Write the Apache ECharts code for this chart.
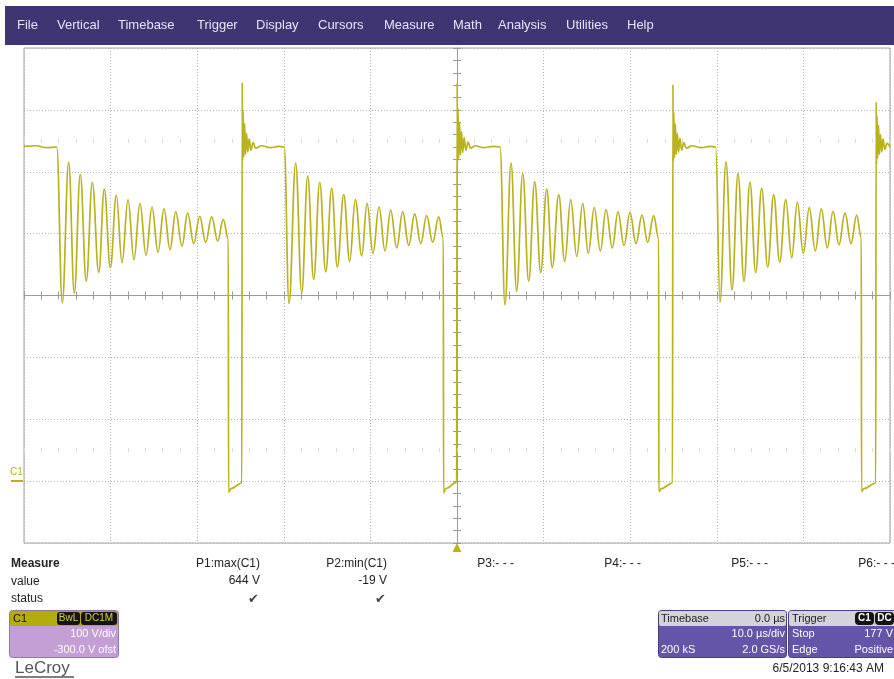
<!DOCTYPE html>
<html>
<head>
<meta charset="utf-8">
<script src="https://cdn.jsdelivr.net/npm/echarts@6/dist/echarts.min.js"></script>
<style>
  html, body { margin: 0; padding: 0; background: #fff; }
  #scope { width: 894px; height: 679px; }
</style>
</head>
<body>
<div id="scope"></div>
<script>
// C1 trace, [time in us, volts], one switching cycle at a time
var cycleA = [
  [-50.0, 541], [-48.6, 542], [-47.4, 539], [-46.22, 540],
  [-45.58, 288], [-44.84, 515], [-44.19, 304], [-43.50, 496], [-42.81, 323], [-42.11, 483],
  [-41.37, 337], [-40.73, 472], [-40.03, 345], [-39.34, 462], [-38.68, 353], [-37.99, 455],
  [-37.30, 358], [-36.61, 449], [-35.91, 365], [-35.22, 443], [-34.53, 370], [-33.83, 440],
  [-33.14, 374], [-32.48, 435], [-31.76, 380], [-31.10, 433], [-30.40, 384], [-29.71, 428],
  [-29.02, 386], [-28.33, 427], [-27.63, 388], [-26.99, 423], [-26.41, 391],
  [-26.38, -18], [-26.10, -12], [-24.85, -3]
]
var cycleB = [
  [-24.82, -3], [-24.80, 644], [-24.76, 518], [-24.70, 598], [-24.62, 524], [-24.52, 578],
  [-24.42, 528], [-24.30, 562], [-24.16, 532], [-24.00, 553], [-23.80, 535], [-23.55, 547],
  [-23.25, 538], [-22.60, 542], [-21.50, 539], [-20.60, 541], [-19.95, 540],
  [-19.40, 287], [-18.63, 514], [-17.93, 304], [-17.24, 493], [-16.55, 326], [-15.85, 483],
  [-15.16, 338], [-14.47, 473], [-13.82, 346], [-13.08, 463], [-12.39, 355], [-11.74, 455],
  [-11.00, 364], [-10.39, 449], [-9.70, 368], [-9.01, 443], [-8.31, 372], [-7.66, 438],
  [-6.96, 377], [-6.27, 435], [-5.58, 381], [-4.88, 432], [-4.19, 384], [-3.50, 429],
  [-2.81, 386], [-2.11, 427], [-1.58, 392],
  [-1.55, -19], [-1.30, -12], [-0.04, -2]
]
var cycleC = [
  [0.00, -2], [0.02, 644], [0.06, 515], [0.12, 602], [0.20, 522], [0.30, 580],
  [0.40, 527], [0.52, 565], [0.66, 531], [0.82, 555], [1.02, 535], [1.27, 548],
  [1.57, 538], [2.10, 542], [3.10, 539], [4.20, 541], [4.97, 540],
  [5.54, 285], [6.24, 514], [6.89, 307], [7.59, 497], [8.28, 323], [8.97, 484],
  [9.67, 337], [10.36, 472], [11.00, 345], [11.74, 463], [12.44, 355], [13.13, 455],
  [13.82, 363], [14.52, 449], [15.16, 368], [15.85, 442], [16.55, 372], [17.21, 439],
  [17.93, 377], [18.59, 435], [19.28, 381], [19.98, 434], [20.67, 384], [21.36, 430],
  [22.02, 386], [22.71, 429], [23.29, 392],
  [23.31, -17], [23.60, -12], [24.88, -3]
]
var cycleD = [
  [24.92, -3], [24.94, 641], [24.98, 517], [25.04, 596], [25.12, 523], [25.22, 577],
  [25.32, 528], [25.44, 562], [25.58, 532], [25.74, 554], [25.94, 535], [26.19, 547],
  [26.49, 538], [27.10, 542], [28.20, 539], [29.20, 541], [29.87, 540],
  [30.37, 289], [31.06, 516], [31.76, 309], [32.45, 497], [33.14, 323], [33.83, 483],
  [34.49, 337], [35.18, 473], [35.88, 346], [36.57, 463], [37.26, 354], [37.96, 455],
  [38.65, 361], [39.30, 451], [39.99, 368], [40.68, 442], [41.37, 372], [42.07, 440],
  [42.76, 377], [43.42, 436], [44.11, 382], [44.80, 433], [45.50, 384], [46.15, 430],
  [46.69, 393],
  [46.71, -17], [47.00, -12], [48.35, -3]
]
var cycleE = [
  [48.38, -3], [48.40, 613], [48.44, 512], [48.50, 590], [48.58, 522], [48.68, 575],
  [48.78, 528], [48.90, 560], [49.04, 532], [49.20, 553], [49.40, 536], [49.65, 546],
  [50.0, 540]
]

var menuItems = ['File', 'Vertical', 'Timebase', 'Trigger', 'Display', 'Cursors', 'Measure', 'Math', 'Analysis', 'Utilities', 'Help']
var measureNames = ['P1:max(C1)', 'P2:min(C1)', 'P3:- - -', 'P4:- - -', 'P5:- - -', 'P6:- - -']
var measureValues = ['644 V', '-19 V', '', '', '', '']
var measureStatus = ['\u2714', '\u2714', '', '', '', '']
var rowTitles = ['Measure', 'value', 'status']
var channelInfo = ['C1', 'BwL', 'DC1M', '100 V/div', '-300.0 V ofst']
var timebaseInfo = ['Timebase', '0.0 \u00b5s', '10.0 \u00b5s/div', '200 kS', '2.0 GS/s']
var triggerInfo = ['Trigger', 'C1', 'DC', 'Stop', '177 V', 'Edge', 'Positive']
var stamp = '6/5/2013 9:16:43 AM'

// screen layout
var menuX = [17, 57, 118, 197, 256, 318, 384, 453, 498, 566, 627]
var GRID = { left: 24, top: 48, width: 866, height: 495 }
var TRACE = '#B9B21E'
var FONT = '"Liberation Sans", Arial, sans-serif'

var trace = [].concat(cycleA, cycleB, cycleC, cycleD, cycleE)

function txt(x, y, s, size, color, align, bold) {
  return {
    type: 'text', x: x, y: y, silent: true,
    style: {
      text: s, fill: color, align: align || 'left', textAlign: align || 'left',
      verticalAlign: 'middle', textVerticalAlign: 'middle',
      font: (bold ? 'bold ' : '') + size + 'px ' + FONT
    }
  }
}
function box(x, y, w, h, fill, r, stroke) {
  return {
    type: 'rect', silent: true,
    shape: { x: x, y: y, width: w, height: h, r: r || 0 },
    style: { fill: fill, stroke: stroke || null, lineWidth: stroke ? 1 : 0 }
  }
}

function buildGraphics() {
  var g = []
  // menu bar
  g.push(box(5, 6, 889, 39, '#3F3572'))
  menuItems.forEach(function (m, i) {
    g.push(txt(menuX[i], 25, m, 13, '#E6E4F0'))
  })

  // C1 ground marker and trigger position
  g.push(txt(10, 472, 'C1', 10, TRACE))
  g.push({ type: 'line', silent: true, shape: { x1: 11, y1: 481, x2: 23, y2: 481 }, style: { stroke: TRACE, lineWidth: 2 } })
  g.push({ type: 'polygon', silent: true, shape: { points: [[452.5, 552], [461.5, 552], [457, 543]] }, style: { fill: TRACE } })

  // measure table
  rowTitles.forEach(function (t, i) {
    g.push(txt(11, 564 + i * 17.5, t, 12, '#222', 'left', i === 0))
  })
  measureNames.forEach(function (n, i) {
    var rx = 260 + i * 127
    g.push(txt(rx, 564, n, 12, '#222', 'right'))
    if (measureValues[i]) g.push(txt(rx, 581, measureValues[i], 12, '#222', 'right'))
    if (measureStatus[i]) g.push(txt(rx - 1, 599, measureStatus[i], 13, '#444', 'right'))
  })

  // channel descriptor
  g.push(box(9.5, 610.5, 109, 47, '#C49FD6', 3, '#8E7A98'))
  g.push(box(10, 611, 108, 15, '#B3AC0E', 2))
  g.push(txt(13, 618.5, channelInfo[0], 11, '#111'))
  g.push(box(57, 612, 23, 13, '#141414', 3))
  g.push(box(81, 612, 36, 13, '#141414', 3))
  g.push(txt(68.5, 618.5, channelInfo[1], 10, '#D6CF3A', 'center'))
  g.push(txt(99, 618.5, channelInfo[2], 10, '#D6CF3A', 'center'))
  g.push(txt(116, 634, channelInfo[3], 11, '#FFFFFF', 'right'))
  g.push(txt(116, 650, channelInfo[4], 11, '#FFFFFF', 'right'))
  g.push(txt(15, 668, 'LeCroy', 17, '#555555'))
  g.push({ type: 'line', silent: true, shape: { x1: 15, y1: 677, x2: 74, y2: 677 }, style: { stroke: '#555', lineWidth: 1.5 } })

  // timebase descriptor
  g.push(box(658.5, 610.5, 128, 47, '#6654A8', 3, '#4B3E80'))
  g.push(box(659, 611, 127, 15, '#D4D2DA', 2))
  g.push(txt(661, 618.5, timebaseInfo[0], 11, '#222'))
  g.push(txt(785, 618.5, timebaseInfo[1], 11, '#222', 'right'))
  g.push(txt(785, 634, timebaseInfo[2], 11, '#FFFFFF', 'right'))
  g.push(txt(661, 650, timebaseInfo[3], 11, '#FFFFFF'))
  g.push(txt(785, 650, timebaseInfo[4], 11, '#FFFFFF', 'right'))

  // trigger descriptor
  g.push(box(788.5, 610.5, 110, 47, '#6654A8', 3, '#4B3E80'))
  g.push(box(789, 611, 110, 15, '#D4D2DA', 2))
  g.push(txt(792, 618.5, triggerInfo[0], 11, '#222'))
  g.push(box(855, 612, 19, 13, '#141414', 4))
  g.push(box(875, 612, 19, 13, '#141414', 4))
  g.push(txt(864.5, 618.5, triggerInfo[1], 10, '#FFFFFF', 'center', true))
  g.push(txt(884.5, 618.5, triggerInfo[2], 10, '#FFFFFF', 'center', true))
  g.push(txt(792, 634, triggerInfo[3], 11, '#FFFFFF'))
  g.push(txt(893, 634, triggerInfo[4], 11, '#FFFFFF', 'right'))
  g.push(txt(792, 650, triggerInfo[5], 11, '#FFFFFF'))
  g.push(txt(893, 650, triggerInfo[6], 11, '#FFFFFF', 'right'))

  g.push(txt(884, 669, stamp, 12, '#222', 'right'))
  return g
}

// an axis used only to draw a tick row at a given volt level (or the centre cross)
function tickRowX(volts, inside, showLine, color, len) {
  return {
    type: 'value', min: -50, max: 50, interval: 2,
    offset: -GRID.height * (volts + 100) / 800,
    axisLine: { show: showLine, onZero: false, lineStyle: { color: color, width: 1 } },
    axisTick: { show: true, inside: inside, length: len, lineStyle: { color: color } },
    axisLabel: { show: false }, splitLine: { show: false }
  }
}
function tickRowY(inside, showLine) {
  return {
    type: 'value', min: -100, max: 700, interval: 20,
    offset: -GRID.width / 2,
    axisLine: { show: showLine, onZero: false, lineStyle: { color: '#9A9A9A', width: 1 } },
    axisTick: { show: true, inside: inside, length: 4, lineStyle: { color: '#9A9A9A' } },
    axisLabel: { show: false }, splitLine: { show: false }
  }
}

var chart = echarts.init(document.getElementById('scope'), null, { renderer: 'canvas' })
chart.setOption({
  animation: false,
  backgroundColor: '#ffffff',
  grid: {
    left: GRID.left, top: GRID.top, width: GRID.width, height: GRID.height,
    show: true, borderColor: '#A0A0A0', borderWidth: 1, backgroundColor: 'transparent'
  },
  xAxis: [
    {
      type: 'value', min: -50, max: 50, interval: 10,
      axisLine: { show: false, onZero: false }, axisTick: { show: false }, axisLabel: { show: false },
      splitLine: { show: true, lineStyle: { color: '#B4B4B4', type: [1, 2] } }
    },
    tickRowX(300, false, true, '#9A9A9A', 4),
    tickRowX(300, true, false, '#9A9A9A', 4),
    tickRowX(550, false, false, '#D8D8D8', 2),
    tickRowX(550, true, false, '#D8D8D8', 2),
    tickRowX(50, false, false, '#D8D8D8', 2),
    tickRowX(50, true, false, '#D8D8D8', 2)
  ],
  yAxis: [
    {
      type: 'value', min: -100, max: 700, interval: 100,
      axisLine: { show: false, onZero: false }, axisTick: { show: false }, axisLabel: { show: false },
      splitLine: { show: true, lineStyle: { color: '#B4B4B4', type: [1, 2] } }
    },
    tickRowY(false, true),
    tickRowY(true, false)
  ],
  series: [
    {
      name: 'C1',
      type: 'line',
      data: trace,
      showSymbol: false,
      smooth: 0.4,
      smoothMonotone: 'x',
      clip: true,
      z: 5,
      lineStyle: { color: TRACE, width: 1.7 },
      itemStyle: { color: TRACE }
    }
  ],
  graphic: buildGraphics()
})
</script>
</body>
</html>
